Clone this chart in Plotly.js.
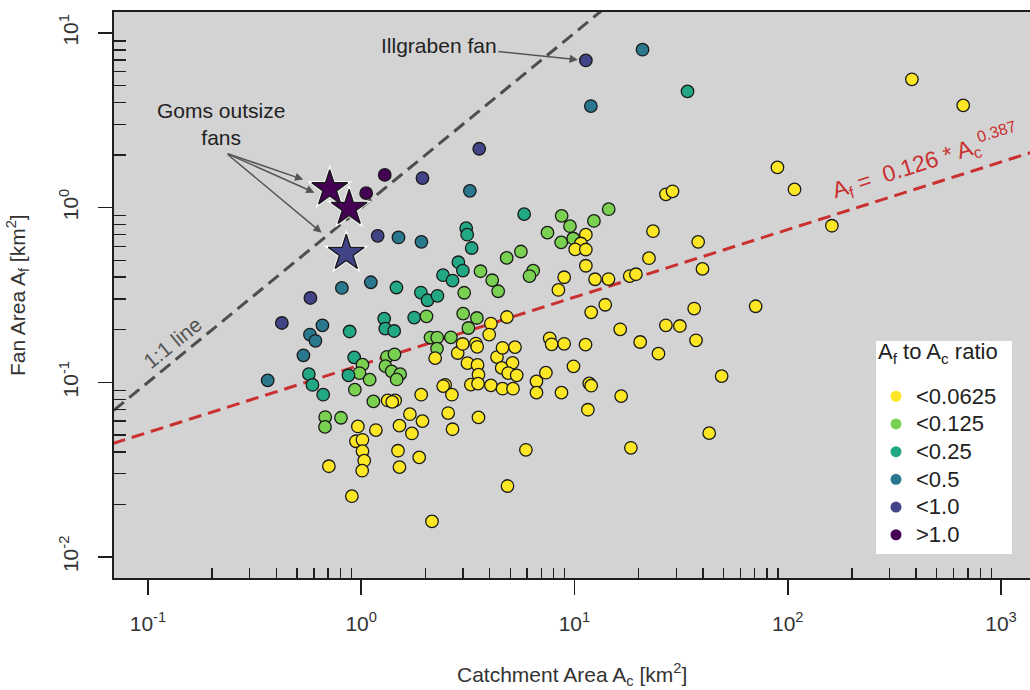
<!DOCTYPE html>
<html>
<head>
<meta charset="utf-8">
<script src="https://cdn.plot.ly/plotly-3.0.1.min.js"></script>
<style>html,body{margin:0;padding:0;background:#fff;}#chart{width:1030px;height:690px;}</style>
</head>
<body>
<div id="chart"></div>
<script>
// ---- Data (km^2) ----
const catchmentArea = [
1.29, 1.055, 1.938, 3.576, 11.31, 20.85, 33.9, 11.94, 3.233, 1.195,
1.496, 1.916, 0.812, 1.110, 1.463, 0.578, 0.4247, 0.658, 0.575, 0.6105,
0.536, 0.3644, 0.5684, 0.591, 0.6635, 0.883, 1.282, 1.296, 1.428, 1.905,
2.046, 2.279, 1.772, 2.024, 2.419, 2.681, 0.927, 1.014, 0.982, 0.872,
1.096, 0.934, 1.141, 1.321, 1.433, 1.299, 1.390, 1.523, 1.467, 2.113,
2.272, 2.634, 2.267, 2.223, 0.678, 0.6765, 0.804, 1.331, 1.443, 1.398,
1.911, 0.965, 1.172, 0.945, 1.014, 1.014, 1.033, 1.011, 0.7056, 1.512,
1.692, 1.729, 1.938, 1.488, 1.512, 1.871, 0.9045, 2.148, 2.476, 2.424,
2.663, 2.558, 2.681, 2.835, 2.991, 3.450, 3.499, 3.150, 3.511, 3.548,
3.268, 3.53, 4.057, 4.599, 5.150, 4.334, 4.599, 5.263, 5.123, 4.558,
4.891, 5.36, 3.548, 5.92, 4.853, 4.057, 3.983, 4.822, 3.007, 3.487,
3.182, 5.81, 3.107, 3.141, 3.297, 2.856, 2.998, 3.626, 4.115, 4.389,
3.041, 4.811, 5.609, 6.405, 6.155, 7.473, 8.711, 9.53, 9.865, 8.665,
12.34, 14.47, 11.31, 10.72, 10.08, 11.31, 11.31, 8.95, 8.408, 12.49,
14.44, 18.16, 19.42, 22.36, 23.35, 26.84, 28.83, 11.98, 13.94, 16.39,
20.33, 7.654, 7.82, 8.95, 11.27, 7.346, 6.637, 6.637, 8.693, 9.897,
11.73, 11.98, 11.56, 16.56, 18.39, 38.03, 39.84, 36.42, 70.74, 26.84,
31.22, 37.15, 24.77, 49.0, 42.84, 89.5, 107.6, 161.1, 382.1, 665
];
const fanArea = [
1.54, 1.211, 1.476, 2.173, 6.96, 8.02, 4.63, 3.817, 1.248, 0.6895,
0.675, 0.637, 0.347, 0.374, 0.349, 0.304, 0.2187, 0.2121, 0.1877, 0.1729,
0.1428, 0.1026, 0.1115, 0.0966, 0.0850, 0.1955, 0.2317, 0.2031, 0.1968, 0.3266,
0.295, 0.313, 0.2349, 0.2388, 0.4104, 0.3826, 0.139, 0.1263, 0.113, 0.1097,
0.1036, 0.0908, 0.0778, 0.140, 0.1447, 0.1238, 0.1156, 0.1114, 0.1039, 0.1804,
0.1804, 0.1811, 0.156, 0.1376, 0.0633, 0.0556, 0.0627, 0.0788, 0.0788, 0.0773,
0.085, 0.0559, 0.0533, 0.046, 0.0469, 0.0404, 0.0356, 0.0312, 0.0331, 0.0565,
0.0657, 0.051, 0.060, 0.0406, 0.0327, 0.0372, 0.0223, 0.016, 0.0967, 0.0952,
0.085, 0.0667, 0.0539, 0.1472, 0.1658, 0.1667, 0.1597, 0.129, 0.1258, 0.1107,
0.097, 0.0983, 0.0961, 0.092, 0.092, 0.1396, 0.1576, 0.1591, 0.1293, 0.121,
0.113, 0.1097, 0.063, 0.0411, 0.0255, 0.217, 0.1877, 0.2366, 0.2475, 0.2336,
0.2047, 0.918, 0.763, 0.7002, 0.5875, 0.487, 0.4365, 0.4325, 0.3842, 0.3322,
0.3257, 0.5157, 0.561, 0.4355, 0.406, 0.7192, 0.8975, 0.7834, 0.666, 0.6327,
0.839, 0.980, 0.70, 0.6236, 0.5768, 0.576, 0.465, 0.3996, 0.338, 0.3892,
0.3903, 0.406, 0.4158, 0.5137, 0.7334, 1.192, 1.240, 0.2518, 0.278, 0.2012,
0.1702, 0.1787, 0.1651, 0.1662, 0.1644, 0.1136, 0.1013, 0.0873, 0.0873, 0.1235,
0.0987, 0.0957, 0.0697, 0.0834, 0.0422, 0.637, 0.446, 0.2644, 0.2726, 0.2121,
0.2102, 0.174, 0.146, 0.1086, 0.0512, 1.70, 1.271, 0.788, 5.43, 3.852
];
// Goms outsize fans (stars)
const gomsCatchment = [0.712, 0.878, 0.851];
const gomsFan = [1.285, 0.993, 0.5485];
// Illgraben fan index in the arrays above
const illgrabenIndex = 4;

// Ratio classes
const ratioBreaks = [0.0625, 0.125, 0.25, 0.5, 1.0];
const classLabels = ['<0.0625', '<0.125', '<0.25', '<0.5', '<1.0', '>1.0'];
const classColors = ['#FDE725', '#7AD151', '#22A884', '#2A788E', '#414487', '#440154'];

// Power-law fit and 1:1 line
const fitCoef = 0.126, fitExp = 0.387;
const lineExtent = [0.03, 3000];

// Axis ticks
const xMajor = [0.1, 1, 10, 100, 1000];
const xMajorText = ['10<sup>-1</sup>', '10<sup>0</sup>', '10<sup>1</sup>', '10<sup>2</sup>', '10<sup>3</sup>'];
const yMajor = [0.01, 0.1, 1, 10];
const yMajorText = ['10<sup>-2</sup>', '10<sup>-1</sup>', '10<sup>0</sup>', '10<sup>1</sup>'];

// ---- helpers ----
function classOf(af, ac) {
  const r = af / ac;
  for (let i = 0; i < ratioBreaks.length; i++) if (r < ratioBreaks[i]) return i;
  return ratioBreaks.length;
}
// minor ticks 2..9 inside each decade between first and last major
function minorTicks(majors) {
  const out = [];
  majors.slice(0, -1).forEach(m => { for (let k = 2; k <= 9; k++) out.push(m * k); });
  return out;
}
const lg = Math.log10;

const FONT = 'Liberation Sans, Arial, sans-serif';
const AXC = '#1e1e1e';

const traces = [];
// 1:1 line
traces.push({
  x: lineExtent, y: lineExtent, mode: 'lines', type: 'scatter', showlegend: false, hoverinfo: 'skip',
  line: {color: '#4d4d4d', width: 3, dash: '13px,7px'}
});
// fit line
traces.push({
  x: lineExtent, y: lineExtent.map(v => fitCoef * Math.pow(v, fitExp)), mode: 'lines', type: 'scatter',
  showlegend: false, hoverinfo: 'skip',
  line: {color: '#C9302F', width: 3, dash: '13px,7px'}
});
// circles
traces.push({
  x: catchmentArea, y: fanArea, mode: 'markers', type: 'scatter', showlegend: false,
  marker: {size: 12.5, color: catchmentArea.map((ac, i) => classColors[classOf(fanArea[i], ac)]),
           line: {color: '#1a1a1a', width: 1.3}}
});
// stars: white halo then star
traces.push({
  x: gomsCatchment, y: gomsFan, mode: 'markers', type: 'scatter', showlegend: false, hoverinfo: 'skip',
  marker: {symbol: 'star', size: 34, color: '#ffffff', line: {width: 0}}
});
traces.push({
  x: gomsCatchment, y: gomsFan, mode: 'markers', type: 'scatter', showlegend: false,
  marker: {symbol: 'star', size: 27, color: gomsCatchment.map((ac, i) => classColors[classOf(gomsFan[i], ac)]),
           line: {color: '#1a1a1a', width: 1.4}}
});
// legend entries
classLabels.forEach((lab, i) => {
  traces.push({
    x: [null], y: [null], mode: 'markers', type: 'scatter',
    name: '<span style="font-size:22px">' + lab + '</span>', showlegend: true,
    marker: {size: 11, color: classColors[i], line: {width: 0}}
  });
});

const xRange = [-1.159, 3.136];
const yRange = [-2.12, 1.12];

function px2paperX(px) { return (px - 114) / 916; }
function px2paperY(py) { return (578 - py) / 566; }

const annotations = [];
// Illgraben
annotations.push({
  x: lg(catchmentArea[illgrabenIndex]), y: lg(fanArea[illgrabenIndex]), xref: 'x', yref: 'y',
  text: 'Illgraben fan', showarrow: true, ax: -147, ay: -15, standoff: 8,
  arrowhead: 2, arrowsize: 1.1, arrowwidth: 1.5, arrowcolor: '#555',
  font: {family: FONT, size: 21, color: '#222'}
});
// Goms label
annotations.push({
  xref: 'paper', yref: 'paper', x: px2paperX(221), y: px2paperY(124), xanchor: 'center', yanchor: 'middle',
  text: 'Goms outsize<br>fans', showarrow: false, align: 'center',
  font: {family: FONT, size: 21, color: '#222'}
});
const gomsArrow = [[-103.5, -35.5, 28], [-123, -55, 38], [-120, -100, 32]];
gomsArrow.forEach((a, i) => {
  annotations.push({
    x: lg(gomsCatchment[i]), y: lg(gomsFan[i]), xref: 'x', yref: 'y', text: '',
    showarrow: true, ax: a[0], ay: a[1], standoff: a[2],
    arrowhead: 2, arrowsize: 1.1, arrowwidth: 1.5, arrowcolor: '#555'
  });
});
// 1:1 line label
annotations.push({
  xref: 'paper', yref: 'paper', x: px2paperX(173), y: px2paperY(343), xanchor: 'center', yanchor: 'middle',
  text: '1:1 line', showarrow: false, textangle: -39,
  font: {family: FONT, size: 21, color: '#555'}
});
// equation
annotations.push({
  xref: 'paper', yref: 'paper', x: px2paperX(925), y: px2paperY(161), xanchor: 'center', yanchor: 'middle',
  text: 'A<sub>f</sub> =  ' + fitCoef + ' * A<sub>c</sub><sup>' + fitExp + '</sup>', showarrow: false, textangle: -17.6,
  font: {family: FONT, size: 23, color: '#C9302F'}
});
// axis titles
annotations.push({
  xref: 'paper', yref: 'paper', x: 0.5, y: px2paperY(675), xanchor: 'center', yanchor: 'middle',
  text: 'Catchment Area A<sub>c</sub> [km<sup>2</sup>]', showarrow: false,
  font: {family: FONT, size: 21, color: '#333'}
});
annotations.push({
  xref: 'paper', yref: 'paper', x: px2paperX(17), y: 0.5, xanchor: 'center', yanchor: 'middle', textangle: -90,
  text: 'Fan Area A<sub>f</sub> [km<sup>2</sup>]', showarrow: false,
  font: {family: FONT, size: 21, color: '#333'}
});

const layout = {
  width: 1030, height: 690,
  margin: {l: 114, r: 0, t: 12, b: 112, pad: 0},
  paper_bgcolor: '#ffffff', plot_bgcolor: '#D3D3D3',
  font: {family: FONT, color: '#333'},
  showlegend: true,
  xaxis: {
    type: 'log', range: xRange, showgrid: false, zeroline: false,
    showline: true, linecolor: AXC, linewidth: 2, mirror: true,
    ticks: 'outside', ticklen: 15, tickwidth: 1.6, tickcolor: AXC,
    tickmode: 'array', tickvals: xMajor, ticktext: xMajorText, ticklabelstandoff: 11,
    tickfont: {family: FONT, size: 21, color: '#333'},
    minor: {tickmode: 'array', tickvals: minorTicks(xMajor), ticks: 'inside', ticklen: 10, tickwidth: 1.4, tickcolor: AXC, showgrid: false}
  },
  yaxis: {
    type: 'log', range: yRange, showgrid: false, zeroline: false,
    showline: true, linecolor: AXC, linewidth: 2,
    ticks: 'outside', ticklen: 14, tickwidth: 1.6, tickcolor: AXC,
    tickmode: 'array', tickvals: yMajor, ticktext: yMajorText, tickangle: -90, ticklabelstandoff: 12,
    tickfont: {family: FONT, size: 21, color: '#333'},
    minor: {tickmode: 'array', tickvals: minorTicks(yMajor), ticks: 'inside', ticklen: 12, tickwidth: 1.4, tickcolor: AXC, showgrid: false}
  },
  xaxis2: {
    type: 'log', range: xRange, overlaying: 'x', anchor: 'y', side: 'bottom',
    showgrid: false, zeroline: false, showline: false, showticklabels: false,
    ticks: 'inside', ticklen: 10, tickwidth: 1.6, tickcolor: AXC, tickmode: 'array', tickvals: xMajor
  },
  yaxis2: {
    type: 'log', range: yRange, overlaying: 'y', anchor: 'x', side: 'left',
    showgrid: false, zeroline: false, showline: false, showticklabels: false,
    ticks: 'inside', ticklen: 12, tickwidth: 1.6, tickcolor: AXC, tickmode: 'array', tickvals: yMajor
  },
  legend: {
    x: px2paperX(876), y: px2paperY(341), xanchor: 'left', yanchor: 'top',
    bgcolor: '#ffffff', borderwidth: 0,
    font: {family: FONT, size: 19, color: '#222'},
    title: {text: '<span style="font-size:22px">A<sub>f</sub> to A<sub>c</sub> ratio&nbsp;&nbsp;</span><br> ', font: {family: FONT, size: 14, color: '#222'}},
    traceorder: 'normal', itemsizing: 'trace'
  },
  annotations: annotations
};

Plotly.newPlot('chart', traces, layout, {displayModeBar: false, staticPlot: true});
</script>
</body>
</html>
